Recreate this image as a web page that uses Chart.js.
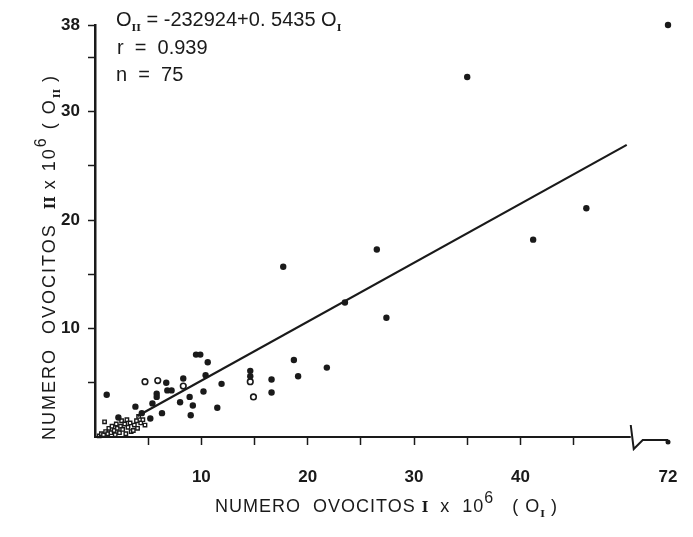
<!DOCTYPE html>
<html>
<head>
<meta charset="utf-8">
<script src="https://cdn.jsdelivr.net/npm/chart.js@4.4.0/dist/chart.umd.min.js"></script>
<style>
  html, body { margin: 0; padding: 0; background: #fff; }
  #wrap { position: relative; width: 693px; height: 537px; }
  #chart { position: absolute; left: 0; top: 0; }
  .txt {
    position: absolute;
    color: #1a1a1a;
    font-family: "Liberation Sans", Arial, sans-serif;
    white-space: pre;
    line-height: 20px;
  }
  .eq { font-size: 20px; }
  .axis-title { font-size: 18px; letter-spacing: 1px; line-height: 18px; }
  .roman { font-family: "DejaVu Serif", serif; font-weight: bold; font-size: 10px; letter-spacing: 0; }
  sub { vertical-align: -5px; }
  sup.p6 { font-size: 16px; vertical-align: 9px; }
  #ytitle { transform-origin: 0 0; transform: rotate(-90deg); letter-spacing: 2px; }
</style>
</head>
<body>
<div id="wrap">
  <canvas id="chart" width="693" height="537"></canvas>
  <div class="txt eq" style="left:116px; top:9px;">O<sub class="roman">II</sub> = -232924+0. 5435 O<sub class="roman">I</sub></div>
  <div class="txt eq" style="left:117px; top:37px;">r  =  0.939</div>
  <div class="txt eq" style="left:116px; top:64px;">n  =  75</div>
  <div class="txt axis-title" style="left:215px; top:489px;">NUMERO  OVOCITOS <span class="roman" style="font-size:14px">I</span>  x  10<sup class="p6">6</sup>   ( O<sub class="roman">I</sub> )</div>
  <div id="ytitle" class="txt axis-title" style="left:32px; top:440px;">NUMERO  OVOCITOS  <span class="roman" style="font-size:14px">II</span> x 10<sup class="p6">6</sup> ( O<sub class="roman">II</sub> )</div>
</div>
<script>
// Regression printed on the plot: O_II = -232924 + 0.5435 O_I (values x 10^6)
const intercept = -0.232924;
const slope = 0.5435;
const lineX = [4, 50];

// Females with large counts (filled dots), x = O_I, y = O_II, both x 10^6
const filledPoints = [
  [72, 38], [35.0, 33.2], [46.2, 21.1], [41.2, 18.2], [17.7, 15.7],
  [26.5, 17.3], [23.5, 12.4], [27.4, 11.0], [18.7, 7.1], [21.8, 6.4],
  [19.1, 5.6], [16.6, 5.3], [16.6, 4.1], [14.6, 6.1], [14.6, 5.6],
  [9.5, 7.6], [9.9, 7.6], [10.6, 6.9], [6.7, 5.0], [8.3, 5.4],
  [10.4, 5.7], [11.9, 4.9], [5.8, 4.0], [5.8, 3.7], [6.8, 4.3],
  [7.2, 4.3], [5.4, 3.1], [8.0, 3.2], [8.9, 3.7], [10.2, 4.2],
  [9.2, 2.9], [11.5, 2.7], [9.0, 2.0], [6.3, 2.2], [5.2, 1.7],
  [4.4, 2.2], [1.1, 3.9], [3.8, 2.8], [2.2, 1.8]
];

// Open circles
const openPoints = [
  [4.7, 5.1], [5.9, 5.2], [8.3, 4.7], [14.6, 5.1], [14.9, 3.7]
];

// Small counts packed near the origin (open squares)
const clusterPoints = [
  [0.4, 0.1], [0.6, 0.3], [0.8, 0.2], [1.0, 0.5], [1.2, 0.3], [1.3, 0.8],
  [1.5, 0.4], [1.6, 1.0], [1.8, 0.6], [1.9, 0.2], [2.0, 1.2], [2.1, 0.8],
  [2.3, 0.4], [2.4, 1.0], [2.5, 1.5], [2.6, 0.7], [2.8, 1.2], [2.9, 0.3],
  [3.0, 1.6], [3.1, 0.9], [3.3, 1.3], [3.4, 0.5], [3.6, 0.6], [3.7, 1.1],
  [3.9, 1.5], [4.0, 0.8], [4.1, 1.9], [4.3, 1.3], [4.5, 1.6], [4.7, 1.1],
  [0.9, 1.4]
];

// Axis ticks
const xTicks = [5, 10, 15, 20, 25, 30, 35, 40, 45, 72];
const xLabels = [10, 20, 30, 40, 72];
const yTicks = [5, 10, 15, 20, 25, 30, 35, 38];
const yLabels = [10, 20, 30, 38];

// x axis is cut between 50 and 72
const breakAt = 50;
const breakFraction = 0.928;

const ink = "#1a1a1a";

class BrokenLinearScale extends Chart.LinearScale {
  getPixelForValue(value) {
    const span = this.right - this.left;
    const mainW = span * breakFraction;
    if (value <= breakAt) {
      return this.left + ((value - this.min) / (breakAt - this.min)) * mainW;
    }
    return this.left + mainW + ((value - breakAt) / (this.max - breakAt)) * (span - mainW);
  }
  getValueForPixel(pixel) {
    const span = this.right - this.left;
    const mainW = span * breakFraction;
    const p = pixel - this.left;
    if (p <= mainW) return this.min + (p / mainW) * (breakAt - this.min);
    return breakAt + ((p - mainW) / (span - mainW)) * (this.max - breakAt);
  }
}
BrokenLinearScale.id = "brokenLinear";
BrokenLinearScale.defaults = Chart.LinearScale.defaults;
Chart.register(BrokenLinearScale);

const toXY = (arr) => arr.map((p) => ({ x: p[0], y: p[1] }));

// x axis line with the break mark
const brokenAxis = {
  id: "brokenAxis",
  afterDraw(chart) {
    const { ctx, chartArea } = chart;
    const x = chart.scales.x;
    const y0 = chartArea.bottom;
    const bx = x.getPixelForValue(breakAt) + 4;
    ctx.save();
    ctx.strokeStyle = ink;
    ctx.fillStyle = ink;
    ctx.lineWidth = 2;
    ctx.beginPath();
    ctx.moveTo(chartArea.left, y0);
    ctx.lineTo(bx, y0);
    ctx.stroke();
    ctx.beginPath();
    ctx.moveTo(bx, y0 - 12);
    ctx.lineTo(bx + 3, y0 + 12);
    ctx.lineTo(bx + 12, y0 + 3);
    ctx.lineTo(chartArea.right, y0 + 3);
    ctx.stroke();
    ctx.beginPath();
    ctx.arc(chartArea.right, y0 + 5, 2.5, 0, Math.PI * 2);
    ctx.fill();
    ctx.restore();
  },
};

new Chart(document.getElementById("chart"), {
  type: "scatter",
  data: {
    datasets: [
      {
        type: "line",
        label: "Regresion",
        data: lineX.map((v) => ({ x: v, y: intercept + slope * v })),
        borderColor: ink,
        borderWidth: 2.2,
        pointRadius: 0,
        fill: false,
      },
      {
        label: "Filled",
        data: toXY(filledPoints),
        pointStyle: "circle",
        pointRadius: 3.2,
        backgroundColor: ink,
        borderColor: ink,
        borderWidth: 0,
        clip: false,
      },
      {
        label: "Open",
        data: toXY(openPoints),
        pointStyle: "circle",
        pointRadius: 2.8,
        backgroundColor: "#fff",
        borderColor: ink,
        borderWidth: 1.6,
        clip: false,
      },
      {
        label: "Cluster",
        data: toXY(clusterPoints),
        pointStyle: "rect",
        pointRadius: 2.4,
        backgroundColor: "#fff",
        borderColor: ink,
        borderWidth: 1.4,
        clip: false,
      },
    ],
  },
  options: {
    responsive: false,
    animation: false,
    devicePixelRatio: 1,
    layout: { padding: { top: 25, right: 25, left: 0, bottom: 0 } },
    plugins: { legend: { display: false }, tooltip: { enabled: false } },
    scales: {
      x: {
        type: "brokenLinear",
        min: 0,
        max: 72,
        afterFit: (scale) => {
          scale.height = 100;
          scale.paddingLeft = 0;
          scale.paddingRight = 0;
        },
        afterBuildTicks: (scale) => { scale.ticks = xTicks.map((v) => ({ value: v })); },
        border: { display: false },
        grid: {
          drawOnChartArea: false,
          drawTicks: true,
          tickLength: 8,
          tickWidth: 1.5,
          tickColor: (c) => (c.tick && c.tick.value === 72 ? "rgba(0,0,0,0)" : ink),
        },
        ticks: {
          autoSkip: false,
          maxRotation: 0,
          padding: 22,
          color: ink,
          font: { family: "Liberation Sans", size: 17, weight: "bold" },
          callback: (v) => (xLabels.includes(v) ? String(v) : ""),
        },
      },
      y: {
        min: 0,
        max: 38,
        afterFit: (scale) => {
          scale.width = 95;
          scale.paddingTop = 0;
          scale.paddingBottom = 0;
        },
        afterBuildTicks: (scale) => { scale.ticks = yTicks.map((v) => ({ value: v })); },
        border: { display: true, color: ink, width: 2.5 },
        grid: {
          drawOnChartArea: false,
          drawTicks: true,
          tickLength: 7,
          tickWidth: 1.5,
          tickColor: ink,
        },
        ticks: {
          autoSkip: false,
          padding: 8,
          color: ink,
          font: { family: "Liberation Sans", size: 17, weight: "bold" },
          callback: (v) => (yLabels.includes(v) ? String(v) : ""),
        },
      },
    },
  },
  plugins: [brokenAxis],
});
</script>
</body>
</html>
